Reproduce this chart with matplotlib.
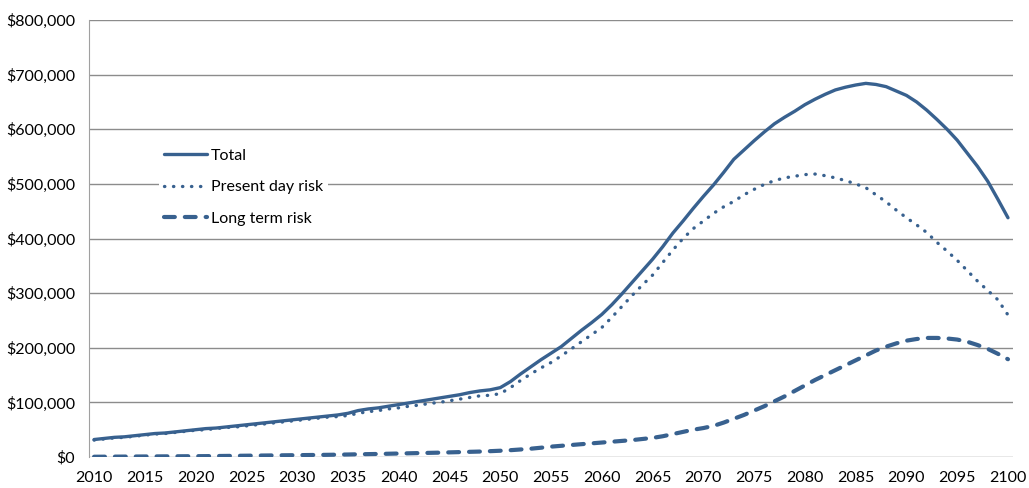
import numpy as np
import matplotlib
matplotlib.use("Agg")
import matplotlib.pyplot as plt
from matplotlib.ticker import FuncFormatter

# -------------------- Data (thousands of $) --------------------

years = np.arange(2010, 2101)

total = [32, 34, 36, 37, 39, 41, 43, 44, 46, 48,
         50, 52, 53, 55, 57, 59, 61, 63, 65, 67,
         69, 71, 73, 75, 77, 80, 85, 88, 90, 93,
         96, 99, 102, 105, 108, 111, 114, 118, 121, 123,
         127, 138, 152, 165, 178, 190, 202, 217, 232, 246,
         261, 279, 299, 320, 341, 362, 385, 410, 432, 455,
         477, 498, 521, 545, 562, 579, 595, 610, 622, 633,
         645, 655, 664, 672, 677, 681, 684, 682, 678, 670,
         662, 650, 635, 618, 600, 580, 556, 532, 505, 472,
         438]

present_day = [31, 33, 35, 36, 38, 40, 42, 43, 45, 47,
               49, 50, 52, 54, 55, 57, 59, 61, 63, 65,
               67, 69, 71, 73, 74, 76, 80, 83, 85, 88,
               90, 93, 95, 98, 100, 103, 106, 109, 112, 113,
               116, 127, 140, 152, 163, 173, 185, 198, 211, 224,
               237, 256, 276, 296, 315, 333, 356, 379, 400, 418,
               432, 446, 458, 468, 480, 490, 499, 506, 511, 514,
               517, 518, 515, 511, 506, 500, 493, 480, 467, 452,
               438, 425, 411, 393, 377, 360, 341, 322, 305, 288,
               260]

long_term = [0.5, 0.6, 0.7, 0.8, 0.9, 1.0, 1.1, 1.2, 1.3, 1.4,
             1.5, 1.6, 1.8, 2.0, 2.2, 2.4, 2.6, 2.8, 3.0, 3.2,
             3.4, 3.6, 3.8, 4.0, 4.3, 4.6, 5.0, 5.3, 5.6, 6.0,
             6.4, 6.8, 7.2, 7.6, 8.0, 8.5, 9.0, 9.5, 10, 10.7,
             11.5, 12.5, 13.8, 15.2, 17, 19, 20.5, 22, 23.5, 25,
             26.5, 28, 29.5, 31, 33, 35, 38, 42, 46, 50,
             53, 57, 63, 70, 77, 85, 93, 102, 111, 121,
             131, 141, 150, 159, 168, 177, 186, 195, 202, 208,
             213, 216, 218, 218, 217, 215, 211, 205, 198, 189,
             179]

# -------------------- Plot --------------------

plt.rcParams['font.family'] = ['Lato', 'DejaVu Sans']
color = '#38618f'

fig = plt.figure(figsize=(10.29, 4.88), dpi=100)
ax = fig.add_axes([0.0865, 0.0635, 0.898, 0.8955])

ax.plot(years, np.array(total) * 1000, color=color, lw=2.4,
        solid_capstyle='round', label='Total')
ax.plot(years, np.array(present_day) * 1000, color=color, lw=2.4,
        linestyle=(0, (0.1, 2.6)), dash_capstyle='round', label='Present day risk')
ax.plot(years, np.array(long_term) * 1000, color=color, lw=3.0,
        linestyle=(0, (2.6, 2.4)), dash_capstyle='round', label='Long term risk')

ax.set_xlim(2009.5, 2100.5)
ax.set_ylim(0, 800000)
ax.set_xticks(np.arange(2010, 2101, 5))
ax.set_yticks(np.arange(0, 800001, 100000))
ax.yaxis.set_major_formatter(FuncFormatter(lambda v, p: '${:,.0f}'.format(v)))
ax.tick_params(length=0, labelsize=11.5, colors='black')
ax.tick_params(axis='x', pad=10)
ax.tick_params(axis='y', pad=10)

ax.grid(True, axis='y', color='#8c8c8c', lw=1)
ax.set_axisbelow(True)
for s in ['top', 'right', 'bottom']:
    ax.spines[s].set_visible(False)
ax.spines['left'].set_color('#a0a0a0')

leg = ax.legend(loc='upper left', bbox_to_anchor=(0.067, 0.735), fontsize=11.5,
                handlelength=2.7, handletextpad=0.25, labelspacing=1.08,
                frameon=True, facecolor='white', edgecolor='none',
                framealpha=1, fancybox=False, borderpad=0.3)

fig.savefig('out.png', dpi=100)
